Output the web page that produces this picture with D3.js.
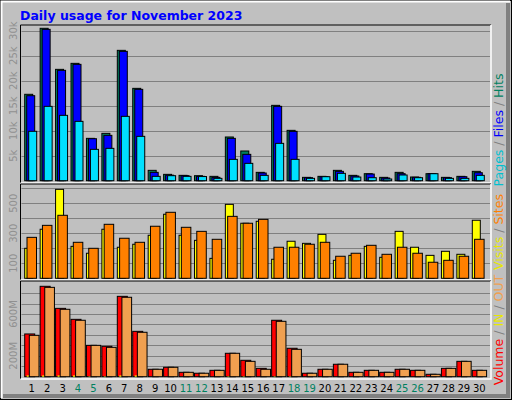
<!DOCTYPE html>
<html><head><meta charset="utf-8">
<script src="https://cdn.jsdelivr.net/npm/d3@7"></script>
<style>body{margin:0;background:#fff}svg{display:block;font-family:"DejaVu Sans",sans-serif}</style>
</head><body><svg id="chart" width="512" height="400"></svg>
<script>
// values
const days = d3.range(1, 31);
const weekend = [4, 5, 11, 12, 18, 19, 25, 26];
const hits  = [17280,30480,22270,23470,8470,9470,26070,18470,2070,1270,1070,1000,870,8740,5940,1670,15070,10070,670,870,2070,1070,1400,670,1670,740,1400,670,870,1870];
const files = [17000,30270,22070,23270,8400,9070,25870,18270,1670,1100,1000,870,670,8470,5270,1540,14870,9870,600,800,1870,940,1330,540,1400,670,1400,600,800,1600];
const pages = [9880,14870,13070,11870,6270,6470,12870,8870,870,1000,870,830,470,4270,3470,1070,7470,4270,470,800,1470,730,600,340,1140,600,1400,470,470,1070];
const visits = [200,327,593,213,167,327,207,227,287,427,287,253,133,493,367,380,127,247,233,293,120,153,213,140,313,207,153,180,160,387];
const sites  = [273,353,420,240,200,360,267,240,347,440,340,313,260,413,367,393,207,207,227,240,147,167,220,160,207,167,107,120,147,260];
const volume = [409,865,654,549,300,291,769,434,71,90,42,33,61,224,157,80,540,272,33,71,119,42,61,42,71,61,23,80,147,61];
const outVol = [396,855,645,540,300,281,760,425,71,90,42,33,61,224,147,71,530,262,33,71,119,42,61,42,71,61,23,80,147,61];
const inVol  = [12,12,12,12,4,4,12,12,0,0,0,0,0,4,4,0,4,4,0,0,0,0,0,0,0,0,0,0,0,0];
const topTicks = [5000,10000,15000,20000,25000,30000];
const topLabels = ["5k","10k","15k","20k","25k","30k"];
const midGrid = [100,200,300,400,500,600];
const midTicks = [100,300,500];
const botGrid = [100,200,300,400,500,600,700,800];
const botTicks = [200,600];

const svg = d3.select("#chart");
svg.append("rect").attr("width",512).attr("height",400).attr("fill","#c0c0c0");
// bevel frame
svg.append("rect").attr("x",0.5).attr("y",0.5).attr("width",511).attr("height",399).attr("fill","none").attr("stroke","#000");
svg.append("path").attr("d","M1.5,398V1.5H510").attr("fill","none").attr("stroke","#fff").attr("stroke-width",2);
svg.append("path").attr("d","M508,3V396H3").attr("fill","none").attr("stroke","#808080").attr("stroke-width",4);

svg.append("text").attr("x",20).attr("y",20).attr("fill","#0000ff").attr("font-weight","bold")
  .attr("font-size",12.5).text("Daily usage for November 2023");

const x = d3.scaleLinear().domain([1,30]).range([31.7,479.3]);
const L = 20.5, R = 491;

function panel(y0, y1) {
  svg.append("path").attr("d",`M${L},${y1}V${y0}H${R}`).attr("fill","none").attr("stroke","#000");
  svg.append("path").attr("d",`M${R},${y0}V${y1}H${L}`).attr("fill","none").attr("stroke","#fff").attr("stroke-width",1.5);
}
function grid(y, vals) {
  svg.append("g").selectAll("line").data(vals).join("line")
    .attr("x1",L+1).attr("x2",R-1).attr("y1",d=>Math.round(y(d))+0.5).attr("y2",d=>Math.round(y(d))+0.5)
    .attr("stroke","#808080");
}
function ylabels(y, vals, fmt) {
  svg.append("g").selectAll("text").data(vals).join("text")
    .attr("transform",d=>`translate(17,${y(d)}) rotate(-90)`).attr("text-anchor","middle")
    .attr("fill","#909090").attr("font-size",10).text(fmt);
}
function bars(y, vals, dx, w, fill) {
  svg.append("g").selectAll("rect").data(vals).join("rect")
    .attr("x",(d,i)=>x(days[i])+dx).attr("width",w)
    .attr("y",d=>y(d)).attr("height",d=>Math.max(0,y(0)-y(d)))
    .attr("fill",fill).attr("stroke","#000").attr("stroke-width",1);
}
function sideLabel(cy, parts) {
  const t = svg.append("text").attr("transform",`translate(503,${cy}) rotate(-90)`)
    .attr("text-anchor","middle").attr("font-size",12.5);
  parts.forEach(p => t.append("tspan").attr("fill",p[1]).text(p[0]));
}

// top panel
const yTop = d3.scaleLinear().domain([0,5000]).range([180.7,155.7]);
panel(25, 183);
grid(yTop, topTicks);
ylabels(yTop, topTicks, (d,i)=>topLabels[i]);
bars(yTop, hits, -7, 8, "#00805f");
bars(yTop, files, -5, 8, "#0000ff");
bars(yTop, pages, -3, 8, "#00e0ff");
sideLabel(130, [["Pages","#00c0d0"],[" / ","#808080"],["Files","#0000ff"],[" / ","#808080"],["Hits","#00805f"]]);

// middle panel
const yMid = d3.scaleLinear().domain([0,100]).range([278.3,263.3]);
panel(184, 280);
grid(yMid, midGrid);
ylabels(yMid, midTicks, d=>d);
bars(yMid, visits, -7, 8, "#ffff00");
bars(yMid, sites, -4.7, 9.5, "#ff8000");
sideLabel(232, [["Visits","#e8e800"],[" / ","#808080"],["Sites","#ff8000"]]);

// bottom panel
const yBot = d3.scaleLinear().domain([0,100]).range([376.7,366.25]);
panel(281, 379);
grid(yBot, botGrid);
ylabels(yBot, botTicks, d=>d+"M");
bars(yBot, volume, -7, 10, "#ff0000");
bars(yBot, outVol, -2.4, 9.7, "#f0a050");
svg.append("g").selectAll("rect").data(inVol).join("rect")
  .attr("x",(d,i)=>x(days[i])-5).attr("width",d=>d?2:0)
  .attr("y",d=>yBot(d)).attr("height",d=>yBot(0)-yBot(d))
  .attr("fill","#ffff00");
sideLabel(330, [["Volume","#ff0000"],[" / ","#808080"],["IN","#e8e800"],[" / ","#808080"],["OUT","#f0a050"]]);

// day labels
svg.append("g").selectAll("text").data(days).join("text")
  .attr("x",d=>x(d)).attr("y",392).attr("text-anchor","middle").attr("font-size",10)
  .attr("fill",d=>weekend.includes(d)?"#00805f":"#000").text(d=>d);
</script></body></html>
